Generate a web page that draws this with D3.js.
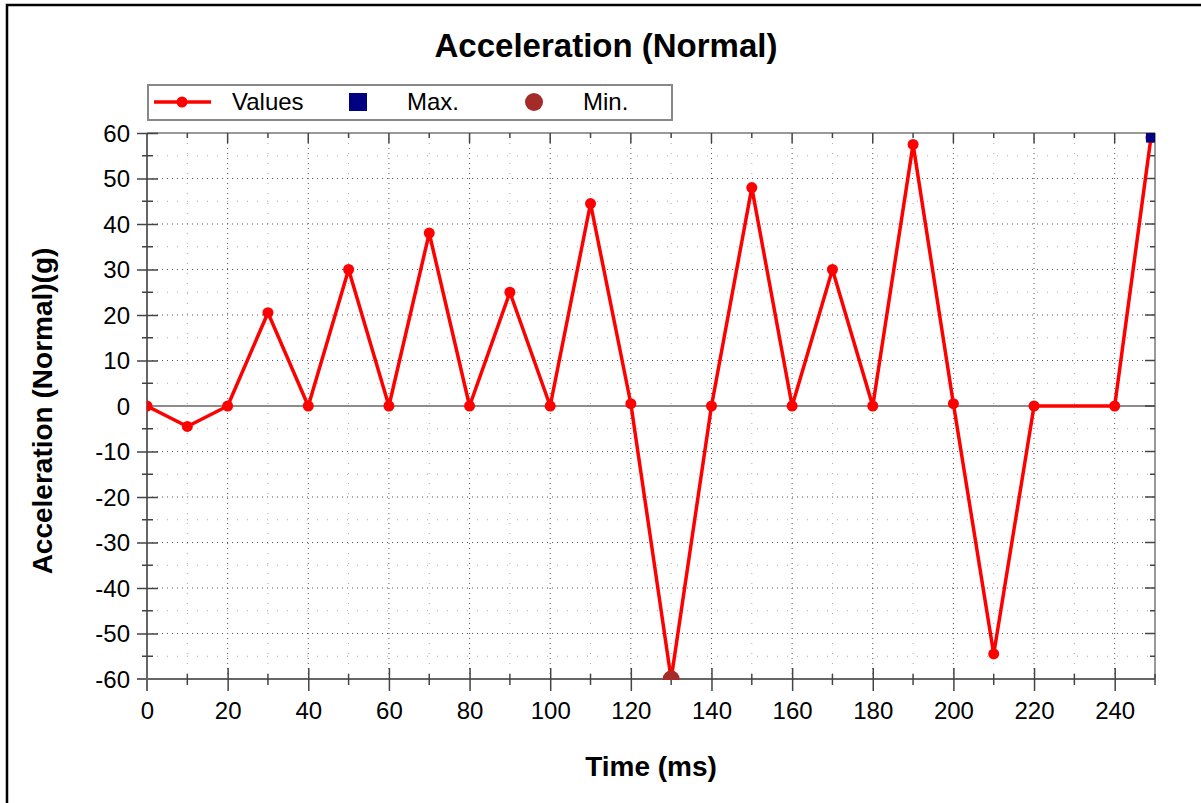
<!DOCTYPE html>
<html><head><meta charset="utf-8">
<script src="https://cdn.jsdelivr.net/npm/d3@7"></script>
<style>body{margin:0;background:#fff;}svg{display:block;font-family:"Liberation Sans",Arial,sans-serif;}</style>
</head><body>
<script>
const title = "Acceleration (Normal)";
const xTitle = "Time (ms)";
const yTitle = "Acceleration (Normal)(g)";
const times = [0,10,20,30,40,50,60,70,80,90,100,110,120,130,140,150,160,170,180,190,200,210,220,240,249];
const values = [0,-4.5,0,20.5,0,30,0,38,0,25,0,44.5,0.5,-60,0,48,0,30,0,57.5,0.5,-54.5,0,0,59];
const maxPoint = [249, 59];
const minPoint = [130, -60];
const xTicks = [0,20,40,60,80,100,120,140,160,180,200,220,240];
const yTicks = [60,50,40,30,20,10,0,-10,-20,-30,-40,-50,-60];
const legendItems = ["Values","Max.","Min."];

const W = 1201, H = 803;
const svg = d3.select("body").append("svg").attr("width", W).attr("height", H);
svg.append("rect").attr("width", W).attr("height", H).attr("fill", "#fff");
svg.append("path").attr("d", `M7,${H+5}V5H${W+5}`).attr("fill","none").attr("stroke","#000").attr("stroke-width",2.5);

const L = 147, R = 1155, T = 133, B = 679;
const x = d3.scaleLinear().domain([0,250]).range([L,R]);
const y = d3.scaleLinear().domain([-60,60]).range([B,T]);

const minorX = d3.range(10,251,20);
const minorY = d3.range(-55,60,10);
const fmt = d => String(d);

// grid
const g = svg.append("g");
g.selectAll(".gmx").data(minorX).join("line").attr("x1",d=>x(d)).attr("x2",d=>x(d)).attr("y1",T).attr("y2",B)
  .attr("stroke","#aaa").attr("stroke-width",1).attr("stroke-dasharray","1,9");
g.selectAll(".gmy").data(minorY).join("line").attr("y1",d=>y(d)).attr("y2",d=>y(d)).attr("x1",L).attr("x2",R)
  .attr("stroke","#aaa").attr("stroke-width",1).attr("stroke-dasharray","1,9");
g.selectAll(".gMx").data(xTicks.filter(d=>d>0)).join("line").attr("x1",d=>x(d)).attr("x2",d=>x(d)).attr("y1",T).attr("y2",B)
  .attr("stroke","#555").attr("stroke-width",1).attr("stroke-dasharray","1,4");
g.selectAll(".gMy").data(yTicks.filter(d=>d>-60&&d<60&&d!==0)).join("line").attr("y1",d=>y(d)).attr("y2",d=>y(d)).attr("x1",L).attr("x2",R)
  .attr("stroke","#555").attr("stroke-width",1).attr("stroke-dasharray","1,4");

// zero line
svg.append("line").attr("x1",L).attr("x2",R).attr("y1",y(0)).attr("y2",y(0)).attr("stroke","#666").attr("stroke-width",1.5);

// frame top/right
svg.append("line").attr("x1",L).attr("x2",R).attr("y1",T).attr("y2",T).attr("stroke","#999").attr("stroke-width",2);
svg.append("line").attr("x1",R).attr("x2",R).attr("y1",T).attr("y2",B).attr("stroke","#999").attr("stroke-width",2);

// axes via d3
const xAxis = svg.append("g").attr("transform",`translate(0,${B})`)
  .call(d3.axisBottom(x).tickValues(xTicks).tickSize(12).tickPadding(11).tickFormat(fmt));
xAxis.select(".domain").attr("stroke","#666").attr("stroke-width",2).attr("d",`M${L-10},0H${R}`);
xAxis.selectAll(".tick line").attr("stroke","#444").attr("stroke-width",1.5).attr("y1",-11);
xAxis.selectAll("text").attr("font-size",24).attr("fill","#000");
xAxis.selectAll(".tick").filter(d=>d===0).select("line").remove();

const yAxis = svg.append("g").attr("transform",`translate(${L},0)`)
  .call(d3.axisLeft(y).tickValues(yTicks).tickSize(10).tickPadding(7).tickFormat(fmt));
yAxis.select(".domain").attr("stroke","#666").attr("stroke-width",2).attr("d",`M0,${T}V${B+12}`);
yAxis.selectAll(".tick line").attr("stroke","#444").attr("stroke-width",1.5).attr("x2",-10).attr("x1",11);
yAxis.selectAll("text").attr("font-size",24).attr("fill","#000").attr("dy","0.35em");
yAxis.selectAll(".tick").filter(d=>d===0||d===-60).select("line").remove();

// minor ticks
svg.append("g").selectAll("line").data(minorX).join("line")
  .attr("x1",d=>x(d)).attr("x2",d=>x(d)).attr("y1",B-5).attr("y2",B+6).attr("stroke","#444").attr("stroke-width",1.5);
svg.append("g").selectAll("line").data(minorY).join("line")
  .attr("y1",d=>y(d)).attr("y2",d=>y(d)).attr("x1",L-5).attr("x2",L+6).attr("stroke","#444").attr("stroke-width",1.5);
// top/right inward ticks
svg.append("g").selectAll("line").data(xTicks.filter(d=>d>0)).join("line")
  .attr("x1",d=>x(d)).attr("x2",d=>x(d)).attr("y1",T).attr("y2",T+10).attr("stroke","#444").attr("stroke-width",1.5);
svg.append("g").selectAll("line").data(minorX.filter(d=>d<250)).join("line")
  .attr("x1",d=>x(d)).attr("x2",d=>x(d)).attr("y1",T).attr("y2",T+5).attr("stroke","#444").attr("stroke-width",1.5);
svg.append("g").selectAll("line").data(yTicks.filter(d=>d>-60&&d<60)).join("line")
  .attr("y1",d=>y(d)).attr("y2",d=>y(d)).attr("x1",R-10).attr("x2",R).attr("stroke","#444").attr("stroke-width",1.5);
svg.append("g").selectAll("line").data(minorY).join("line")
  .attr("y1",d=>y(d)).attr("y2",d=>y(d)).attr("x1",R-5).attr("x2",R).attr("stroke","#444").attr("stroke-width",1.5);

// clip
svg.append("clipPath").attr("id","clip").append("rect").attr("x",L).attr("y",T).attr("width",R-L).attr("height",B-T+1);
const plot = svg.append("g").attr("clip-path","url(#clip)");
const pts = times.map((t,i)=>[t,values[i]]);
plot.append("path").datum(pts).attr("d",d3.line().x(d=>x(d[0])).y(d=>y(d[1])))
  .attr("fill","none").attr("stroke","#ff0000").attr("stroke-width",3.5).attr("stroke-linejoin","round");
plot.selectAll(".pt").data(pts).join("circle").attr("cx",d=>x(d[0])).attr("cy",d=>y(d[1])).attr("r",5.5).attr("fill","#ff0000");
plot.append("circle").attr("cx",x(minPoint[0])).attr("cy",y(minPoint[1])).attr("r",8.5).attr("fill","#a52a2a");
plot.append("rect").attr("x",x(maxPoint[0])-5).attr("y",y(maxPoint[1])-5).attr("width",10).attr("height",10).attr("fill","#000080");

// title
svg.append("text").attr("x",606).attr("y",57).attr("text-anchor","middle").attr("font-size",33).attr("font-weight","bold").text(title);
svg.append("text").attr("x",651).attr("y",776).attr("text-anchor","middle").attr("font-size",28).attr("font-weight","bold").text(xTitle);
svg.append("text").attr("transform",`translate(52,${(T+B)/2 + 5}) rotate(-90)`).attr("text-anchor","middle").attr("font-size",28).attr("font-weight","bold").text(yTitle);

// legend
const lg = svg.append("g");
lg.append("rect").attr("x",148).attr("y",85).attr("width",524).attr("height",35).attr("fill","#fff").attr("stroke","#888").attr("stroke-width",2);
lg.append("line").attr("x1",154).attr("x2",211).attr("y1",102).attr("y2",102).attr("stroke","#ff0000").attr("stroke-width",3.5);
lg.append("circle").attr("cx",182).attr("cy",102).attr("r",5.5).attr("fill","#ff0000");
lg.append("rect").attr("x",349).attr("y",93).attr("width",18).attr("height",18).attr("fill","#000080");
lg.append("circle").attr("cx",534).attr("cy",102).attr("r",9).attr("fill","#a52a2a");
const lx = [232,407,583];
lg.selectAll("text").data(legendItems).join("text").attr("x",(d,i)=>lx[i]).attr("y",110).attr("font-size",24).text(d=>d);
</script>
</body></html>
